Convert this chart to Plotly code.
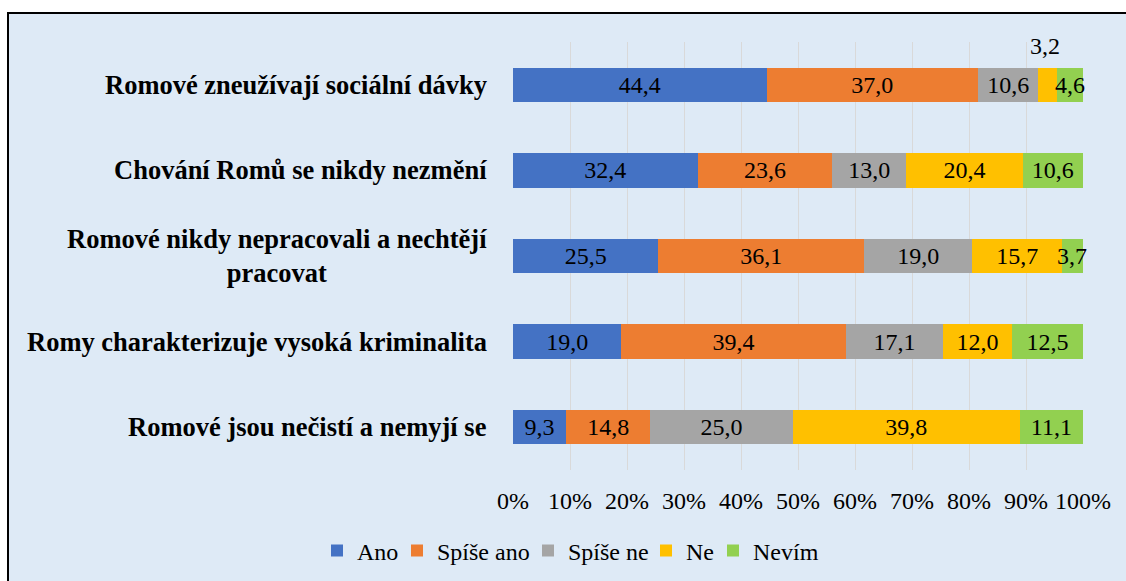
import plotly.graph_objects as go

categories = [
    "Romové zneužívají sociální dávky",
    "Chování Romů se nikdy nezmění",
    "Romové nikdy nepracovali a nechtějí<br>pracovat",
    "Romy charakterizuje vysoká kriminalita",
    "Romové jsou nečistí a nemyjí se",
]
series_names = ["Ano", "Spíše ano", "Spíše ne", "Ne", "Nevím"]
ano = [44.4, 32.4, 25.5, 19.0, 9.3]
spise_ano = [37.0, 23.6, 36.1, 39.4, 14.8]
spise_ne = [10.6, 13.0, 19.0, 17.1, 25.0]
ne = [3.2, 20.4, 15.7, 12.0, 39.8]
nevim = [4.6, 10.6, 3.7, 12.5, 11.1]
tick_vals = [0, 10, 20, 30, 40, 50, 60, 70, 80, 90, 100]
tick_text = ["0%", "10%", "20%", "30%", "40%", "50%", "60%", "70%", "80%", "90%", "100%"]

colors = ["#4472C4", "#ED7D31", "#A5A5A5", "#FFC000", "#92D050"]
series = [ano, spise_ano, spise_ne, ne, nevim]

FONT = "Liberation Serif, Times New Roman, serif"
W, H = 1126, 581


def fmt(v):
    return f"{v:.1f}".replace(".", ",")


totals = [sum(s[i] for s in series) for i in range(len(categories))]

# segment labels that are drawn as annotations (too narrow, or outside the bar)
small_labels = []   # (series index, category index, yshift)
small_labels.append((3, 0, 39))          # "Ne" 3,2 above the first bar
for i, v in enumerate(nevim):
    if v < 5:
        small_labels.append((4, i, 0))   # narrow "Nevím" segments

legend_names = ["legend", "legend2", "legend3", "legend4", "legend5"]

fig = go.Figure()
for k, (name, vals, col) in enumerate(zip(series_names, series, colors)):
    texts = [fmt(v) for v in vals]
    for (si, ci, _) in small_labels:
        if si == k:
            texts[ci] = ""
    fig.add_trace(go.Bar(
        y=categories, x=vals, name=name, orientation="h",
        marker=dict(color=col, line=dict(width=0)),
        text=texts, textposition="inside", insidetextanchor="middle",
        textangle=0, constraintext="none", cliponaxis=False,
        textfont=dict(family=FONT, size=24, color="black"),
        insidetextfont=dict(family=FONT, size=24, color="black"),
        legend=legend_names[k],
        hovertemplate="%{y}: %{x:.1f}%<extra>" + name + "</extra>",
    ))

annotations = []
for (si, ci, ys) in small_labels:
    before = sum(series[j][ci] for j in range(si))
    mid = (before + series[si][ci] / 2) / totals[ci] * 100
    annotations.append(dict(
        x=mid, y=categories[ci], xref="x", yref="y", text=fmt(series[si][ci]),
        showarrow=False, yshift=ys, xshift=-3 if ys else 0,
        font=dict(family=FONT, size=24, color="black"),
    ))
for c in categories:
    annotations.append(dict(
        x=0, y=c, xref="paper", yref="y", text="<b>" + c + "</b>",
        xanchor="right", yanchor="middle", align="center", xshift=-24,
        showarrow=False, font=dict(family=FONT, size=26.5, color="black"),
    ))

# light-blue chart area with black frame (extends past the right/bottom edge)
L, R, T, B = 513, 43, 42, 111
pw, ph = W - L - R, H - T - B


def px_x(p):
    return (p - L) / pw


def px_y(p):
    return (H - B - p) / ph


legend_text_starts = [357, 437, 568, 686, 753]
legends = {}
for lname, ts in zip(legend_names, legend_text_starts):
    legends[lname] = dict(
        orientation="h", x=(ts - 40) / W, xref="container", xanchor="left",
        y=px_y(551), yanchor="middle",
        font=dict(family=FONT, size=24, color="black"),
        bgcolor="rgba(0,0,0,0)", itemwidth=30,
    )

fig.update_layout(
    width=W, height=H,
    barmode="stack", barnorm="percent", bargap=0.6,
    paper_bgcolor="white", plot_bgcolor="rgba(0,0,0,0)",
    margin=dict(l=L, r=R, t=T, b=B, autoexpand=False),
    font=dict(family=FONT, size=24, color="black"),
    shapes=[dict(
        type="rect", xref="paper", yref="paper", layer="below",
        x0=px_x(8), x1=px_x(1140), y0=px_y(600), y1=px_y(13),
        fillcolor="#DEEAF6", line=dict(color="black", width=2),
    )],
    annotations=annotations,
    xaxis=dict(
        range=[0, 100], tickvals=tick_vals, ticktext=tick_text,
        showgrid=True, gridcolor="#D9D9D9", gridwidth=1.3,
        zeroline=False, showline=False, ticks="",
        tickfont=dict(family=FONT, size=24, color="black"),
        ticklabelstandoff=14, fixedrange=True,
    ),
    yaxis=dict(
        categoryorder="array", categoryarray=categories, autorange="reversed",
        showticklabels=False, showgrid=False, zeroline=False, showline=False,
        ticks="", fixedrange=True,
    ),
    showlegend=True,
    **legends,
)

fig.write_html(
    "out.html",
    config={"displayModeBar": False},
    post_script="document.body.style.margin='0';document.body.style.overflow='hidden';",
)
